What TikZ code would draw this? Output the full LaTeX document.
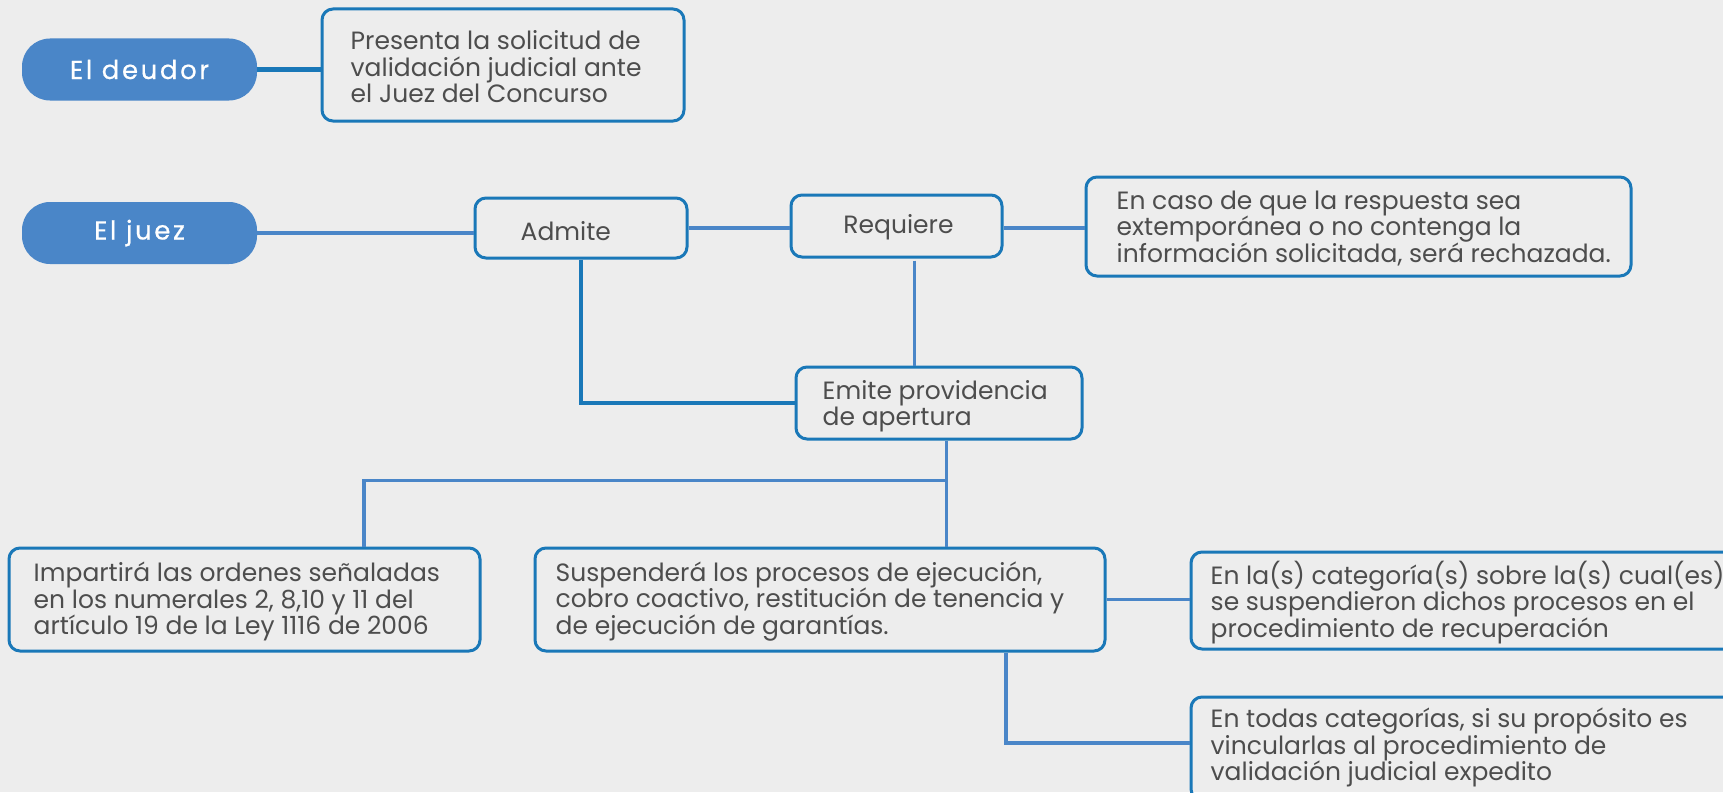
\documentclass[tikz,border=0pt]{standalone}
\usepackage{fontspec}
\setmainfont{Poppins}
\newfontfamily\pillfont{Poppins}[LetterSpace=10,FakeBold=0.5]
\usetikzlibrary{calc}
\definecolor{bg}{HTML}{EDEDED}
\definecolor{pill}{HTML}{4A86C8}
\definecolor{bord}{HTML}{1A78B8}
\definecolor{conn}{HTML}{4A86C8}
\definecolor{txt}{HTML}{4D4D4D}
\tikzset{
  pillnode/.style={rounded corners=28pt, fill=pill, text=white, minimum width=235pt, minimum height=62pt, font=\pillfont\fontsize{26}{30}\selectfont, inner sep=0pt},
  boxnode/.style={draw=bord, line width=3pt, rounded corners=11pt, inner sep=0pt},
  txtnode/.style={text=txt, font=\fontsize{25}{26.5}\selectfont, align=left, inner sep=0pt, anchor=west},
  conline/.style={draw=conn, line width=3.5pt},
  darkline/.style={draw=bord, line width=4pt}
}
\begin{document}
\begin{tikzpicture}[x=1pt,y=-1pt]
\fill[bg] (0,0) rectangle (1723,792);
\path[use as bounding box] (0,0) rectangle (1723,792);
\clip (0,0) rectangle (1723,792);

\node[pillnode] (deudor) at (139.5,69.5) {El deudor};
\node[pillnode] (juez) at (139.5,233) {El juez};

\node[boxnode, minimum width=362pt, minimum height=112pt] (presenta) at (503,65) {};
\node[txtnode] (presentat) at ($(presenta.west)+(30,2)$)
  {Presenta la solicitud de\\validación judicial ante\\el Juez del Concurso};
\node[boxnode, minimum width=212pt, minimum height=60pt] (admite) at (581,228) {};
\node[txtnode] (admitet) at ($(admite.west)+(47,3)$) {Admite};
\node[boxnode, minimum width=211pt, minimum height=62pt] (requiere) at (896.5,226) {};
\node[txtnode, anchor=center] (requieret) at ($(requiere.center)+(2,1)$) {Requiere};
\node[boxnode, minimum width=545pt, minimum height=99pt] (caso) at (1358.5,226.5) {};
\node[txtnode] (casot) at ($(caso.west)+(32,2)$)
  {En caso de que la respuesta sea\\extemporánea o no contenga la\\información solicitada, será rechazada.};
\node[boxnode, minimum width=286pt, minimum height=72pt] (emite) at (939,403) {};
\node[txtnode] (emitet) at ($(emite.west)+(28,3)$)
  {Emite providencia\\de apertura};
\node[boxnode, minimum width=471pt, minimum height=103pt] (imparte) at (244.5,599.5) {};
\node[txtnode] (impartet) at ($(imparte.west)+(26,2)$)
  {Impartirá las ordenes señaladas\\en los numerales 2, 8,10 y 11 del\\artículo 19 de la Ley 1116 de 2006};
\node[boxnode, minimum width=570pt, minimum height=103pt] (suspende) at (820,599.5) {};
\node[txtnode] (suspendet) at ($(suspende.west)+(22,2)$)
  {Suspenderá los procesos de ejecución,\\cobro coactivo, restitución de tenencia y\\de ejecución de garantías.};
\node[boxnode, minimum width=544pt, minimum height=97pt] (categ) at (1463,600.5) {};
\node[txtnode] (categt) at ($(categ.west)+(21,2)$)
  {En la(s) categoría(s) sobre la(s) cual(es)\\se suspendieron dichos procesos en el\\procedimiento de recuperación};
\node[boxnode, minimum width=544pt, minimum height=103pt] (todas) at (1463,748.5) {};
\node[txtnode] (todast) at ($(todas.west)+(21,-1)$)
  {En todas categorías, si su propósito es\\vincularlas al procedimiento de\\validación judicial expedito};

% connectors
\draw[darkline] (deudor.east) -- (deudor.east -| presenta.west);
\draw[conline] (juez.east) -- (juez.east -| admite.west);
\draw[conline] (admite.east) -- (admite.east -| requiere.west);
\draw[conline] ($(requiere.east)+(0,2)$) -- ($(requiere.east -| caso.west)+(0,2)$);
\coordinate (rq) at ($(requiere.south)+(17.5,2)$);
\draw[conline, line width=3pt] (rq) -- (rq |- emite.north);
\draw[darkline] (admite.south) |- (emite.west);
\coordinate (em) at ($(emite.south)+(7,0)$);
\coordinate (j) at ($(em)+(0,40)$);
\coordinate (il) at ($(imparte.north)+(119.5,0)$);
\draw[conline, line width=3pt] (em) -- (j |- suspende.north);
\draw[conline] (j) -| (il);
\draw[conline] (suspende.east) -- (suspende.east -| categ.west);
\coordinate (sb) at ($(suspende.south)+(186,0)$);
\draw[conline] (sb) |- ($(todas.west)+(0,-5.5)$);
\end{tikzpicture}
\end{document}
